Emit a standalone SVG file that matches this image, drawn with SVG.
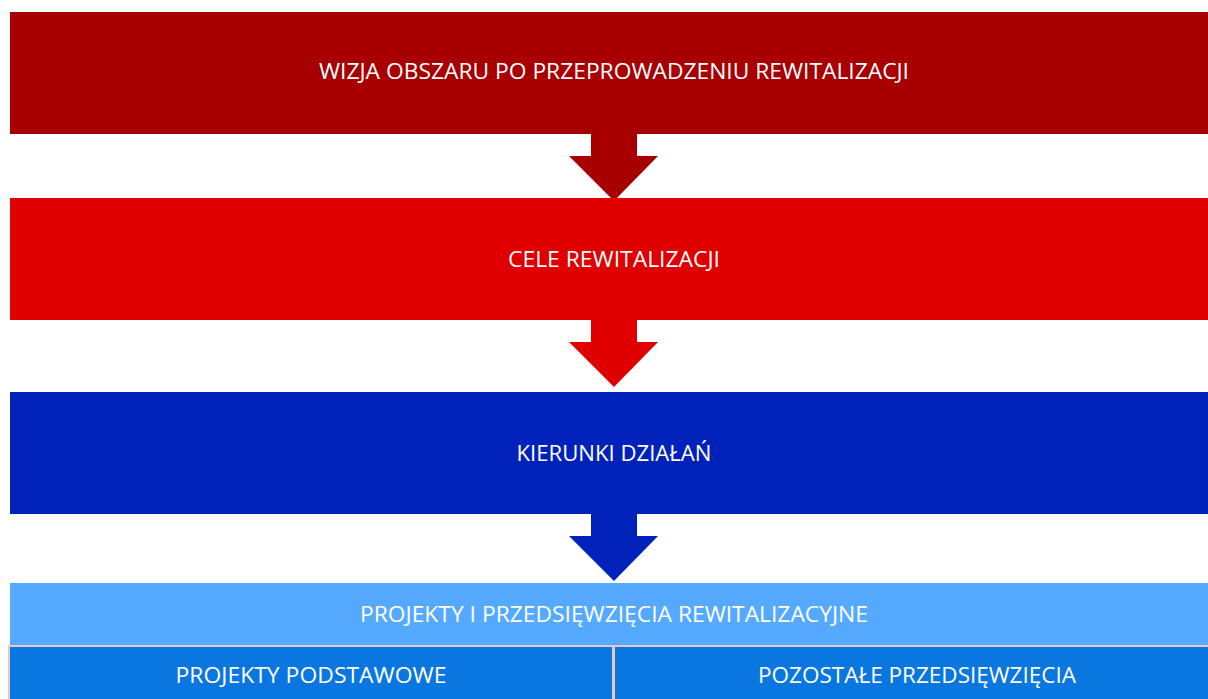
<svg xmlns="http://www.w3.org/2000/svg" width="1208" height="699" viewBox="0 0 1208 699">
<style>
.t{font-family:"Open Sans","Noto Sans","Liberation Sans",sans-serif;font-size:21px;fill:#ffffff;text-anchor:middle}
.sub{stroke:#E8C8CC;stroke-width:2}
</style>
<rect width="1208" height="699" fill="#ffffff"/>
<g id="connectors">
<polygon points="591,133 637,133 637,156 658,156 614,201 569,156 591,156" fill="#A80000"/>
<polygon points="591,319 637,319 637,342 658,342 614,387 569,342 591,342" fill="#E00000"/>
<polygon points="591,513 637,513 637,536 658,536 614,581 569,536 591,536" fill="#0022BB"/>
</g>
<g id="node-wizja">
<rect x="10" y="12" width="1198" height="122" fill="#A80000"/>
<text class="t" x="614" y="79" textLength="590" lengthAdjust="spacingAndGlyphs">WIZJA OBSZARU PO PRZEPROWADZENIU REWITALIZACJI</text>
</g>
<g id="node-cele">
<rect x="10" y="198" width="1198" height="122" fill="#E00000"/>
<text class="t" x="614" y="267" textLength="212" lengthAdjust="spacingAndGlyphs">CELE REWITALIZACJI</text>
</g>
<g id="node-kierunki">
<rect x="10" y="392" width="1198" height="122" fill="#0022BB"/>
<text class="t" x="614" y="461" textLength="195" lengthAdjust="spacingAndGlyphs">KIERUNKI DZIAŁAŃ</text>
</g>
<g id="node-projekty">
<rect x="10" y="583" width="1198" height="62" fill="#55AAFF"/>
<text class="t" x="614" y="622" textLength="508" lengthAdjust="spacingAndGlyphs">PROJEKTY I PRZEDSIĘWZIĘCIA REWITALIZACYJNE</text>
</g>
<g id="node-podstawowe">
<rect class="sub" x="9" y="646" width="604" height="56" fill="#0A77E0"/>
<text class="t" x="311" y="683" textLength="271" lengthAdjust="spacingAndGlyphs">PROJEKTY PODSTAWOWE</text>
</g>
<g id="node-pozostale">
<rect class="sub" x="614" y="646" width="598" height="56" fill="#0A77E0"/>
<text class="t" x="917" y="683" textLength="318" lengthAdjust="spacingAndGlyphs">POZOSTAŁE PRZEDSIĘWZIĘCIA</text>
</g>
</svg>
